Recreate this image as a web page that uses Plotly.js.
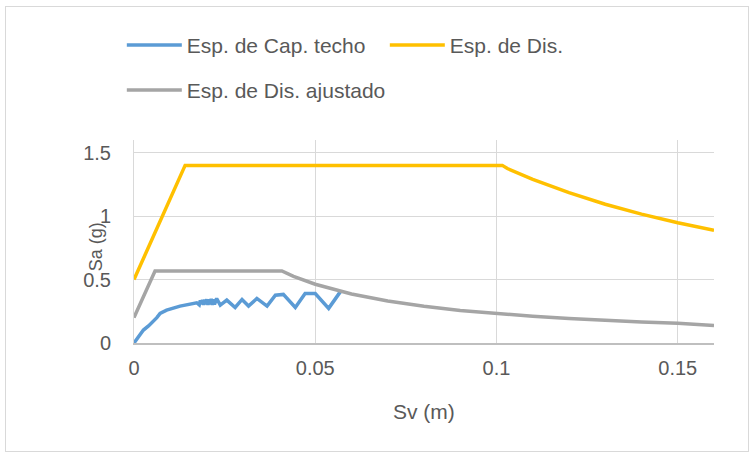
<!DOCTYPE html>
<html>
<head>
<meta charset="utf-8">
<script src="https://cdn.plot.ly/plotly-3.0.1.min.js"></script>
<style>
  html, body { margin: 0; padding: 0; background: #fff; }
  #wrap { position: relative; width: 753px; height: 457px; }
  #chart { position: absolute; left: 0; top: 0; width: 753px; height: 457px; }
  #frame { position: absolute; left: 5px; top: 6px; width: 742px; height: 444px;
           border: 1px solid #d9d9d9; pointer-events: none; }
</style>
</head>
<body>
<div id="wrap">
  <div id="chart"></div>
  <div id="frame"></div>
</div>
<script>
// ---- data ----
const seriesNames = ["Esp. de Cap. techo", "Esp. de Dis.", "Esp. de Dis. ajustado"];

const capX = [0, 0.0013, 0.0026, 0.004, 0.0053, 0.0063, 0.0072, 0.009, 0.0127, 0.0150, 0.0173,
              0.0180, 0.0183, 0.0186, 0.0189, 0.0192, 0.0195, 0.0198, 0.0201, 0.0204, 0.0207,
              0.0210, 0.0213, 0.0216, 0.0219, 0.0222, 0.0224,
              0.0228, 0.0238, 0.0256, 0.0279, 0.0298, 0.0316, 0.0339, 0.0367, 0.0390, 0.0412,
              0.0445, 0.0472, 0.0500, 0.0537, 0.0569];
const capY = [0, 0.05, 0.102, 0.135, 0.167, 0.20, 0.233, 0.259, 0.291, 0.305, 0.317,
              0.300, 0.335, 0.305, 0.340, 0.300, 0.342, 0.305, 0.345, 0.300, 0.345,
              0.305, 0.348, 0.300, 0.345, 0.305, 0.317,
              0.351, 0.299, 0.338, 0.280, 0.343, 0.291, 0.351, 0.291, 0.377, 0.383,
              0.280, 0.390, 0.390, 0.273, 0.403];

const disX = [0, 0.0141, 0.1016, 0.103, 0.11, 0.12, 0.13, 0.14, 0.15, 0.16];
const disY = [0.5, 1.4, 1.4, 1.375, 1.29, 1.185, 1.094, 1.016, 0.948, 0.889];

const ajuX = [0, 0.0058, 0.0408, 0.044, 0.05, 0.06, 0.07, 0.08, 0.09, 0.10, 0.11, 0.12, 0.13, 0.14, 0.15, 0.16];
const ajuY = [0.2, 0.568, 0.568, 0.525, 0.463, 0.386, 0.331, 0.29, 0.257, 0.232, 0.211, 0.193, 0.178, 0.166, 0.155, 0.138];

const xTicks = [0, 0.05, 0.1, 0.15];
const xTickText = ["0", "0.05", "0.1", "0.15"];
const yTicks = [0, 0.5, 1, 1.5];
const yTickText = ["0", "0.5", "1", "1.5"];

const xTitle = "Sv (m)";
const yTitle = "Sa (g)";

// ---- styling ----
const FONT = "'Liberation Sans', Arial, sans-serif";
const TXT = "#595959";
const GRID = "#d9d9d9";

const traces = [
  { x: capX, y: capY, name: seriesNames[0], mode: "lines", type: "scatter",
    line: { color: "#5B9BD5", width: 3.5 }, legend: "legend" },
  { x: disX, y: disY, name: seriesNames[1], mode: "lines", type: "scatter",
    line: { color: "#FFC000", width: 3.5 }, legend: "legend" },
  { x: ajuX, y: ajuY, name: seriesNames[2], mode: "lines", type: "scatter",
    line: { color: "#A5A5A5", width: 3.5 }, legend: "legend2" }
];

const layout = {
  width: 753, height: 457,
  margin: { l: 134, r: 39, t: 140, b: 114 },
  paper_bgcolor: "#ffffff", plot_bgcolor: "#ffffff",
  font: { family: FONT, size: 20, color: TXT },
  showlegend: true,
  legend: {
    orientation: "h", x: -0.021, xanchor: "left", y: 1.567, yanchor: "top",
    itemwidth: 55, entrywidth: 193, entrywidthmode: "pixels",
    font: { family: FONT, size: 21, color: TXT }, bgcolor: "rgba(0,0,0,0)",
    traceorder: "normal"
  },
  legend2: {
    orientation: "h", x: -0.021, xanchor: "left", y: 1.345, yanchor: "top",
    itemwidth: 55,
    font: { family: FONT, size: 21, color: TXT }, bgcolor: "rgba(0,0,0,0)"
  },
  xaxis: {
    range: [0, 0.16], tickvals: xTicks, ticktext: xTickText,
    showgrid: true, gridcolor: GRID, gridwidth: 1,
    zeroline: false, showline: true, linecolor: "#bfbfbf", linewidth: 1.5,
    ticks: "", ticklabelstandoff: 6,
    tickfont: { family: FONT, size: 20, color: TXT }
  },
  yaxis: {
    range: [0, 1.6], tickvals: yTicks, ticktext: yTickText,
    showgrid: true, gridcolor: GRID, gridwidth: 1,
    zeroline: false, showline: true, linecolor: GRID, linewidth: 1,
    ticks: "", ticklabelstandoff: 18,
    tickfont: { family: FONT, size: 20, color: TXT }
  },
  annotations: [
    { text: xTitle, xref: "paper", yref: "paper", x: 0.5, y: -0.335,
      xanchor: "center", yanchor: "middle", showarrow: false,
      font: { family: FONT, size: 21, color: TXT } },
    { text: yTitle, xref: "paper", yref: "paper", x: -0.066, y: 0.475,
      xanchor: "center", yanchor: "middle", showarrow: false, textangle: -90,
      font: { family: FONT, size: 18, color: TXT } }
  ]
};

Plotly.newPlot("chart", traces, layout, { displayModeBar: false, staticPlot: true });
</script>
</body>
</html>
